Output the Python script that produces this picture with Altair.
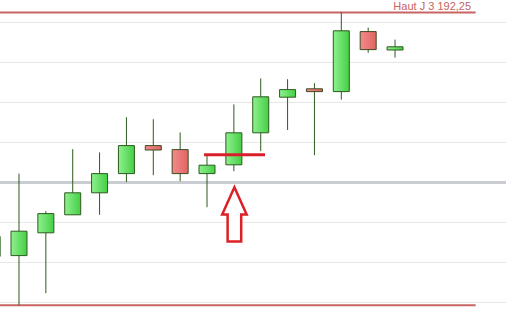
import altair as alt
import pandas as pd

# ---- data ----
idx = list(range(16))
opens = [186.15, 186.17, 186.74, 187.19, 187.74, 188.22, 188.92, 188.82,
         188.22, 188.44, 189.24, 190.13, 190.34, 190.27, 191.77, 191.31]
closes = [186.65, 186.78, 187.22, 187.74, 188.22, 188.92, 188.81, 188.22,
          188.43, 189.24, 190.14, 190.32, 190.27, 191.79, 191.32, 191.39]
highs = [186.80, 188.22, 187.28, 188.83, 188.75, 189.63, 189.58, 189.25,
         188.67, 189.95, 190.60, 190.58, 190.48, 192.25, 191.87, 191.57]
lows = [186.00, 184.93, 185.23, 187.19, 187.19, 188.01, 188.18, 188.03,
        187.38, 188.28, 188.78, 189.31, 188.68, 190.07, 191.24, 191.12]

grid_values = [185, 186, 187, 189, 190, 191, 192]
support_value = 188.0
high_level = 192.25
low_level = 184.93
high_label = "Haut J 3 192,25"
breakout_value = 188.69
breakout_from, breakout_to = 7.89, 10.16
arrow_pos, arrow_value = 9.02, 187.2
level_end = 18.0
grid_end = 19.13
label_pos = 17.83

X_DOMAIN = [0.293, 19.243]
Y_DOMAIN = [184.26, 192.56]

df = pd.DataFrame({"i": idx, "open": opens, "close": closes, "high": highs, "low": lows})
df["top"] = df[["open", "close"]].max(axis=1)
df["bottom"] = df[["open", "close"]].min(axis=1)
df["up"] = df["close"] >= df["open"]

xs = alt.Scale(domain=X_DOMAIN, nice=False, zero=False, padding=0)
ys = alt.Scale(domain=Y_DOMAIN, nice=False, zero=False, padding=0)

base = alt.Chart(df)

grid = alt.Chart(pd.DataFrame({"v": grid_values, "a": 0.0, "b": grid_end})).mark_rule(
    color="#e6e6e6", strokeWidth=1
).encode(x=alt.X("a:Q", scale=xs, axis=None), x2="b:Q", y=alt.Y("v:Q", scale=ys, axis=None))

support = alt.Chart(pd.DataFrame({"v": [support_value], "a": 0.0, "b": grid_end})).mark_rule(
    color="#c9ccd1", strokeWidth=3
).encode(x=alt.X("a:Q", scale=xs), x2="b:Q", y=alt.Y("v:Q", scale=ys))

levels = alt.Chart(pd.DataFrame({"v": [high_level, low_level], "a": 0.0, "b": level_end})).mark_rule(
    color="#c86464", strokeWidth=2
).encode(x=alt.X("a:Q", scale=xs), x2="b:Q", y=alt.Y("v:Q", scale=ys))

label = alt.Chart(pd.DataFrame({"v": [high_level], "p": [label_pos], "t": [high_label]})).mark_text(
    align="right", baseline="alphabetic", dy=-2.5, fontSize=11,
    font="Liberation Sans", color="#c86262"
).encode(x=alt.X("p:Q", scale=xs), y=alt.Y("v:Q", scale=ys), text="t:N")

wicks = base.mark_rule(color="#2d5a1e", strokeWidth=1, clip=True).encode(
    x=alt.X("i:Q", scale=xs), y=alt.Y("low:Q", scale=ys), y2="high:Q"
)

green_fill = {"gradient": "linear", "x1": 0, "x2": 1, "y1": 0, "y2": 0,
              "stops": [{"offset": 0, "color": "#8ef08e"}, {"offset": 1, "color": "#45cf45"}]}
red_fill = {"gradient": "linear", "x1": 0, "x2": 1, "y1": 0, "y2": 0,
            "stops": [{"offset": 0, "color": "#f48a8a"}, {"offset": 1, "color": "#e06464"}]}

up_bodies = base.transform_filter("datum.up").mark_bar(
    size=16, fill=green_fill, stroke="#2d5a1e", strokeWidth=1, clip=True
).encode(x=alt.X("i:Q", scale=xs), y=alt.Y("bottom:Q", scale=ys), y2="top:Q")

down_bodies = base.transform_filter("!datum.up").mark_bar(
    size=16, fill=red_fill, stroke="#3d4a1e", strokeWidth=1, clip=True
).encode(x=alt.X("i:Q", scale=xs), y=alt.Y("bottom:Q", scale=ys), y2="top:Q")

breakout = alt.Chart(pd.DataFrame({"v": [breakout_value], "a": [breakout_from], "b": [breakout_to]})).mark_rule(
    color="#d9202a", strokeWidth=3
).encode(x=alt.X("a:Q", scale=xs), x2="b:Q", y=alt.Y("v:Q", scale=ys))

arrow_shape = "M0,-1L0.45,0L0.25,0L0.25,1L-0.25,1L-0.25,0L-0.45,0Z"
arrow = alt.Chart(pd.DataFrame({"p": [arrow_pos], "v": [arrow_value]})).mark_point(
    shape=arrow_shape, size=2950, filled=True, fill="white", stroke="#dd1f26",
    strokeWidth=2.5, opacity=1
).encode(x=alt.X("p:Q", scale=xs), y=alt.Y("v:Q", scale=ys))

chart = alt.layer(
    grid, support, levels, label, wicks, up_bodies, down_bodies, breakout, arrow
).properties(
    width=509, height=332, autosize=alt.AutoSizeParams(type="none"), padding=0,
    background="white"
).configure_view(stroke=None)

chart.save("out.html", embed_options={"renderer": "svg", "actions": False})
